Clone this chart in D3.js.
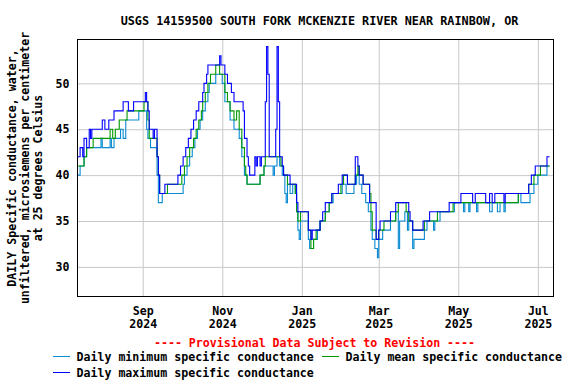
<!DOCTYPE html>
<html lang="en">
<head>
<meta charset="utf-8">
<title>USGS 14159500 specific conductance</title>
<script src="https://d3js.org/d3.v7.min.js"></script>
<style>
    body { margin: 0; background: #fff; }
    svg { display: block; }
    text { font-family: 'DejaVu Sans Mono', 'Liberation Mono', monospace; font-weight: bold; font-size: 11.6px; fill: #000; }
</style>
</head>
<body>
<svg id="chart" width="576" height="384"></svg>
<script>
    // first day of the plot window; series below are [days after START, value] step points
    const START = Date.UTC(2024, 6, 13);
    const END = Date.UTC(2025, 6, 13);

    const minSeries = [[0,40],[2,41],[5,42],[7,43],[18,44],[19,43],[25,44],[26,43],[28,44],[33,45],[35,44],
        [37,46],[47,47],[53,45],[54,44],[56,43],[61,40],[62,37],[65,38],[81,39],[82,40],[84,41],[86,42],
        [88,43],[90,44],[92,45],[94,46],[96,47],[98,48],[100,49],[101,50],[106,51],[111,50],[113,48],
        [117,46],[120,45],[124,44],[126,42],[128,40],[130,39],[140,40],[143,41],[150,40],[151,41],[153,42],
        [155,41],[157,40],[159,38],[160,37],[161,39],[163,38],[165,39],[167,38],[168,36],[169,34],[170,33],
        [171,35],[177,33],[178,32],[181,33],[184,34],[186,35],[190,36],[193,37],[196,38],[203,39],[206,38],
        [212,39],[214,40],[216,39],[218,38],[221,37],[223,36],[225,34],[226,33],[228,32],[230,31],[231,33],
        [234,34],[240,35],[244,36],[246,32],[247,35],[251,36],[253,34],[254,35],[257,32],[258,33],[266,34],
        [268,35],[273,34],[274,35],[278,36],[289,37],[296,36],[297,37],[300,36],[301,37],[306,36],[307,37],
        [316,36],[318,37],[322,36],[324,37],[327,36],[328,37],[338,38],[340,37],[347,38],[350,39],[353,40],
        [360,41],[362,41]];

    const meanSeries = [[0,41],[5,42],[7,43],[12,44],[25,45],[27,44],[29,45],[32,46],[38,47],[51,48],
        [54,46],[55,44],[61,42],[62,40],[63,38],[69,39],[80,40],[82,41],[84,42],[86,43],[89,44],[91,45],
        [93,46],[95,47],[96,48],[98,49],[100,50],[102,51],[106,52],[109,51],[113,49],[115,48],[117,47],
        [120,46],[122,47],[124,45],[126,43],[128,41],[129,40],[130,39],[140,40],[143,41],[144,42],[156,41],
        [158,40],[161,39],[167,38],[168,36],[169,35],[171,36],[177,34],[179,32],[181,33],[183,34],[186,35],
        [190,36],[193,37],[195,38],[202,39],[204,40],[207,39],[213,40],[215,41],[216,40],[219,39],[224,38],
        [225,36],[226,34],[229,33],[231,34],[235,35],[244,36],[246,37],[252,36],[254,35],[257,34],[266,35],
        [276,36],[288,37],[338,38],[346,39],[350,40],[355,41],[362,41]];

    const maxSeries = [[0,42],[2,43],[4,42],[5,44],[7,43],[9,45],[10,44],[11,45],[19,46],[21,45],[24,46],
        [28,47],[35,48],[39,47],[43,48],[52,49],[53,48],[54,47],[55,45],[58,44],[59,45],[61,42],[62,40],
        [63,38],[67,39],[77,40],[79,41],[81,42],[83,43],[85,44],[87,45],[89,46],[91,47],[93,48],[96,49],
        [97,50],[99,51],[100,52],[109,53],[110,52],[113,51],[115,50],[118,49],[120,48],[127,47],[128,44],
        [130,42],[131,41],[132,40],[136,42],[137,41],[138,42],[140,41],[141,42],[144,48],[145,54],[146,51],
        [147,42],[152,45],[153,54],[154,48],[155,42],[157,41],[158,40],[163,39],[168,37],[169,36],[177,34],
        [179,33],[180,34],[186,35],[188,36],[190,37],[195,38],[200,39],[203,40],[207,39],[213,42],[215,41],
        [216,40],[219,39],[224,37],[229,33],[231,34],[232,35],[240,36],[244,37],[254,36],[255,35],[257,34],
        [265,35],[270,36],[285,37],[294,38],[303,37],[305,38],[313,37],[316,38],[318,37],[320,38],[327,37],
        [328,38],[346,39],[348,40],[351,41],[360,42],[362,42]];

    const yTicks = [30, 35, 40, 45, 50];
    const xTicks = [[2024, 8], [2024, 10], [2025, 0], [2025, 2], [2025, 4], [2025, 6]];
    const monthNames = ['Jan','Feb','Mar','Apr','May','Jun','Jul','Aug','Sep','Oct','Nov','Dec'];

    const TITLE = 'USGS 14159500 SOUTH FORK MCKENZIE RIVER NEAR RAINBOW, OR';
    const NOTE = '---- Provisional Data Subject to Revision ----';
    const yLabel = ['DAILY Specific conductance, water,',
                    'unfiltered, microsiemens per centimeter',
                    'at 25 degrees Celsius'];
    const legendItems = [
        {name: 'Daily minimum specific conductance', color: '#0a8ad2', data: minSeries},
        {name: 'Daily mean specific conductance', color: '#009a00', data: meanSeries},
        {name: 'Daily maximum specific conductance', color: '#0000ff', data: maxSeries}
    ];

    // plot box
    const L = 77.5, R = 553.5, T = 39.5, B = 296.5;
    const svg = d3.select('#chart');

    const x = d3.scaleUtc().domain([new Date(START), new Date(END)]).range([L, R]);
    const y = d3.scaleLinear().domain([26.77, 54.78]).range([B, T]);
    const dayDate = d => new Date(START + d * 864e5);

    // grid lines via axes
    svg.append('g')
        .attr('transform', `translate(${L},0)`)
        .call(d3.axisLeft(y).tickValues(yTicks).tickSize(-(R - L)).tickFormat(d3.format('d')).tickPadding(8))
        .call(g => g.select('.domain').remove())
        .call(g => g.selectAll('line').attr('stroke', '#c8c8c8'))
        .call(g => g.selectAll('text').attr('font-size', null).attr('font-family', null).attr('x', -8));

    const xAxis = svg.append('g')
        .attr('transform', `translate(0,${B})`)
        .call(d3.axisBottom(x)
            .tickValues(xTicks.map(t => new Date(Date.UTC(t[0], t[1], 1))))
            .tickSize(-(B - T))
            .tickFormat(''))
        .call(g => g.select('.domain').remove())
        .call(g => g.selectAll('line').attr('stroke', '#c8c8c8'));

    xAxis.selectAll('.tick').each(function(d) {
        const t = d3.select(this).append('text')
            .attr('text-anchor', 'middle');
        t.append('tspan').attr('x', 0).attr('y', 18.5).text(monthNames[d.getUTCMonth()]);
        t.append('tspan').attr('x', 0).attr('y', 31).text(d.getUTCFullYear());
    });

    // series
    const line = d3.line()
        .x(d => x(dayDate(d[0])))
        .y(d => y(d[1]))
        .curve(d3.curveStepAfter);

    svg.append('g')
        .selectAll('path')
        .data(legendItems)
        .join('path')
        .attr('d', d => line(d.data))
        .attr('fill', 'none')
        .attr('stroke', d => d.color)
        .attr('stroke-width', 1.1);

    // frame
    svg.append('rect')
        .attr('x', L).attr('y', T)
        .attr('width', R - L).attr('height', B - T)
        .attr('fill', 'none').attr('stroke', '#000').attr('stroke-width', 1);

    // title
    svg.append('text')
        .attr('x', 319.5).attr('y', 25)
        .attr('text-anchor', 'middle')
        .style('font-size', '11.8px')
        .text(TITLE);

    // y label, three rotated lines
    const yl = svg.append('text')
        .attr('transform', 'translate(0,168) rotate(-90)')
        .attr('text-anchor', 'middle');
    yl.selectAll('tspan')
        .data(yLabel)
        .join('tspan')
        .attr('x', 0)
        .attr('y', (d, i) => 16 + i * 12.8)
        .text(d => d);

    // provisional note
    svg.append('text')
        .attr('x', 314.5).attr('y', 346.5)
        .attr('text-anchor', 'middle')
        .style('fill', '#ff0000')
        .text(NOTE);

    // legend
    const legendPos = [[53, 356.5], [322, 356.5], [53, 372.5]];
    const leg = svg.append('g')
        .selectAll('g')
        .data(legendItems)
        .join('g')
        .attr('transform', (d, i) => `translate(${legendPos[i]})`);
    leg.append('line')
        .attr('x1', 0).attr('x2', 17)
        .attr('stroke', d => d.color)
        .attr('stroke-width', 1);
    leg.append('text')
        .attr('x', 23.5).attr('y', 4.3)
        .text(d => d.name);
</script>
</body>
</html>
